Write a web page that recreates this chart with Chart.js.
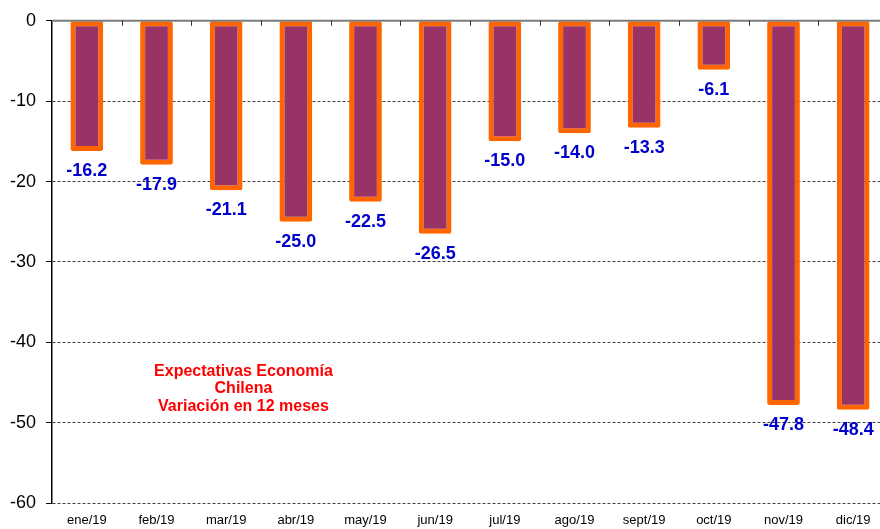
<!DOCTYPE html>
<html>
<head>
<meta charset="utf-8">
<script src="https://cdn.jsdelivr.net/npm/chart.js@4/dist/chart.umd.min.js"></script>
<style>
  html, body { margin: 0; padding: 0; background: #ffffff; overflow: hidden; }
  #wrap { width: 880px; height: 529px; overflow: hidden; }
  canvas { display: block; }
</style>
</head>
<body>
<div id="wrap"><canvas id="c" width="888" height="529" style="width:888px;height:529px"></canvas></div>
<script>
const categories = ['ene/19', 'feb/19', 'mar/19', 'abr/19', 'may/19', 'jun/19', 'jul/19', 'ago/19', 'sept/19', 'oct/19', 'nov/19', 'dic/19'];
const values = [-16.2, -17.9, -21.1, -25.0, -22.5, -26.5, -15.0, -14.0, -13.3, -6.1, -47.8, -48.4];
const yTicks = [0, -10, -20, -30, -40, -50, -60];
const noteLines = ['Expectativas Economía', 'Chilena', 'Variación en 12 meses'];

const FONT = 'Arial, "Liberation Sans", sans-serif';

const valueLabels = {
  id: 'valueLabels',
  afterDatasetsDraw(chart) {
    const ctx = chart.ctx;
    const meta = chart.getDatasetMeta(0);
    ctx.save();
    ctx.fillStyle = '#0000CC';
    ctx.font = 'bold 18px ' + FONT;
    ctx.textAlign = 'center';
    ctx.textBaseline = 'middle';
    meta.data.forEach((bar, i) => {
      ctx.fillText(values[i].toFixed(1), bar.x, bar.y + 20);
    });
    ctx.restore();
  }
};

const zeroLine = {
  id: 'zeroLine',
  afterDatasetsDraw(chart) {
    const ctx = chart.ctx;
    const x = chart.scales.x;
    const y = chart.scales.y;
    const y0 = y.getPixelForValue(0);
    const area = chart.chartArea;
    ctx.save();
    ctx.strokeStyle = '#7a7a7a';
    ctx.lineWidth = 2;
    ctx.beginPath();
    ctx.moveTo(area.left, y0);
    ctx.lineTo(area.right, y0);
    ctx.stroke();
    ctx.strokeStyle = '#333333';
    ctx.lineWidth = 1;
    const n = categories.length;
    for (let i = 1; i < n; i++) {
      const px = Math.round((x.getPixelForValue(i - 1) + x.getPixelForValue(i)) / 2) + 0.5;
      ctx.beginPath();
      ctx.moveTo(px, y0);
      ctx.lineTo(px, y0 + 5);
      ctx.stroke();
    }
    ctx.restore();
  }
};

const note = {
  id: 'note',
  afterDraw(chart) {
    const ctx = chart.ctx;
    const area = chart.chartArea;
    const cx = area.left + (area.right - area.left) * 0.229;
    const y = chart.scales.y;
    const top = y.getPixelForValue(-43.6);
    ctx.save();
    ctx.fillStyle = '#FF0000';
    ctx.font = 'bold 16px ' + FONT;
    ctx.textAlign = 'center';
    ctx.textBaseline = 'middle';
    noteLines.forEach((t, i) => ctx.fillText(t, cx, top + i * 17.8));
    ctx.restore();
  }
};

new Chart(document.getElementById('c'), {
  type: 'bar',
  data: {
    labels: categories,
    datasets: [{
      data: values,
      backgroundColor: '#993366',
      borderColor: '#FF6600',
      borderWidth: 5,
      borderRadius: 2,
      borderSkipped: false,
      barPercentage: 0.47,
      categoryPercentage: 1.0
    }]
  },
  options: {
    responsive: false,
    animation: false,
    devicePixelRatio: 1,
    layout: { padding: { top: 17, right: 0, bottom: 0, left: 0 } },
    plugins: {
      legend: { display: false },
      tooltip: { enabled: false },
      title: { display: false }
    },
    scales: {
      x: {
        afterFit(scale) { scale.height = 26; },
        grid: { display: false },
        border: { display: false },
        ticks: {
          color: '#000000',
          font: { family: FONT, size: 13 },
          padding: 2,
          maxRotation: 0,
          autoSkip: false
        }
      },
      y: {
        min: -60,
        max: 0,
        afterFit(scale) { scale.width = 52; },
        afterBuildTicks(scale) { scale.ticks = yTicks.map(v => ({ value: v })); },
        ticks: {
          color: '#000000',
          font: { family: FONT, size: 18 },
          padding: 10,
          callback: v => String(v)
        },
        grid: {
          color: ctx => (ctx.tick && ctx.tick.value === 0) ? '#7a7a7a' : '#404040',
          lineWidth: 1,
          tickColor: '#000000',
          tickLength: 6,
          tickWidth: 1,
          tickBorderDash: []
        },
        border: {
          display: true,
          color: '#000000',
          width: 1.5,
          dash: ctx => (ctx.tick && ctx.tick.value !== 0) ? [3, 2] : []
        }
      }
    }
  },
  plugins: [valueLabels, zeroLine, note]
});
</script>
</body>
</html>
